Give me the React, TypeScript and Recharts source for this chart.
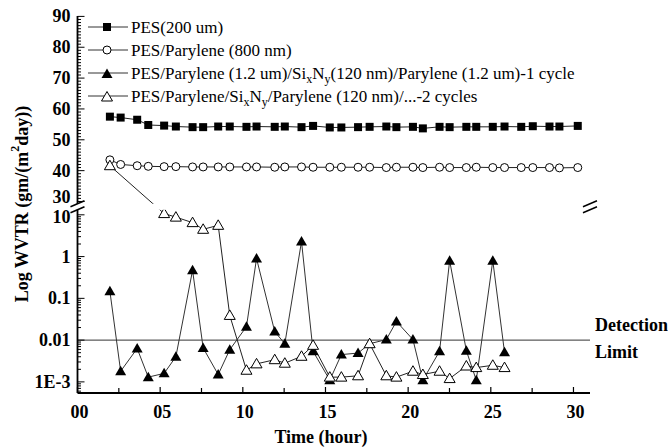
import React from "react";
import {
  ComposedChart,
  Line,
  XAxis,
  YAxis,
  ReferenceLine,
  ReferenceArea,
} from "recharts";

// measurement times (hour), shared by all four samples
const times = [
  1.96, 2.61, 3.61, 4.28, 5.24, 5.95, 6.96, 7.6, 8.51, 9.21, 10.22, 10.83, 11.93, 12.54, 13.55, 14.25,
  15.26, 15.96, 16.97, 17.67, 18.68, 19.29, 20.29, 20.89, 21.9, 22.51, 23.52, 24.12, 25.12, 25.83,
  26.84, 27.54, 28.55, 29.15, 30.26,
];

const pes200 = [
  57.5, 57.2, 56.5, 54.8, 54.6, 54.3, 54.1, 54.1, 54.3, 54.3, 54.2, 54.3, 54.2, 54.3, 54.1, 54.5, 54.0,
  54.0, 54.1, 54.2, 54.3, 54.1, 54.2, 53.7, 54.2, 54.1, 54.2, 54.2, 54.2, 54.3, 54.2, 54.4, 54.3, 54.3, 54.5,
];

const parylene800 = [
  43.5, 42.0, 41.6, 41.4, 41.3, 41.3, 41.2, 41.2, 41.2, 41.2, 41.2, 41.2, 41.1, 41.2, 41.2, 41.1, 41.1,
  41.1, 41.1, 41.1, 41.0, 41.1, 41.1, 41.0, 41.1, 41.0, 41.0, 41.1, 41.0, 41.0, 41.0, 41.0, 41.0, 40.9, 41.0,
];

const oneCycle = [
  0.148, 0.0018, 0.0063, 0.0013, 0.0016, 0.004, 0.47, 0.0065, 0.0015, 0.0059, 0.021, 0.9, 0.016, 0.0082,
  2.3, 0.0054, 0.0011, 0.0045, 0.0049, 0.0082, 0.0103, 0.028, 0.0103, 0.0011, 0.0054, 0.8, 0.0056,
  0.0011, 0.8, 0.0051,
];

const twoCycles = [
  41.6, null, null, null, 10.7, 8.8, 6.5, 4.5, 5.6, 0.039, 0.0019, 0.0027, 0.0034, 0.0028, 0.0041, 0.0075,
  0.0013, 0.0013, 0.0014, 0.0082, 0.0014, 0.0013, 0.0018, 0.0015, 0.0018, 0.0012, 0.0024, 0.0022,
  0.0025, 0.0022,
];

const xTicks = [0, 2.5, 5, 7.5, 10, 12.5, 15, 17.5, 20, 22.5, 25, 27.5, 30];
const logLabels = ["1E-3", "0.01", "0.1", "1", "10"];
const detectionLimit = 0.01;

// broken axis: log10 below the break, linear (30..90) above it
const U30 = 1.319;
const U_PER_UNIT = 0.07386;
const toU = (v: number | null | undefined) =>
  v == null ? null : v >= 20 ? U30 + (v - 30) * U_PER_UNIT : Math.log10(v);

const data = times.map((t, i) => ({
  t,
  pes: toU(pes200[i]),
  par: toU(parylene800[i]),
  one: toU(oneCycle[i]),
  two: toU(twoCycles[i]),
}));

type TickInfo = { label?: string; major: boolean; dy?: number };
const tickInfo = new Map<string, TickInfo>();
const yTicks: number[] = [];
const addTick = (u: number, info: TickInfo) => {
  yTicks.push(u);
  tickInfo.set(u.toFixed(4), info);
};
for (let v = 30; v <= 90; v++) {
  addTick(toU(v) as number, {
    label: v % 10 === 0 ? String(v) : undefined,
    major: v % 10 === 0,
    dy: v === 30 ? -4 : 0,
  });
}
for (let k = 6; k <= 9; k++) addTick(Math.log10(k * 1e-4), { major: false });
for (let d = -3; d <= 0; d++) {
  for (let k = 1; k <= 9; k++) {
    addTick(Math.log10(k) + d, k === 1 ? { label: logLabels[d + 3], major: true } : { major: false });
  }
}
addTick(1, { label: logLabels[4], major: true, dy: 2 });

const FONT = "'Liberation Serif', 'Times New Roman', serif";
const U_MIN = -3.266;
const U_MAX = 5.76;

const YTick = (props: any) => {
  const { x, y, payload } = props;
  const info = tickInfo.get(Number(payload.value).toFixed(4)) || { major: false };
  return (
    <g>
      <line x1={x} y1={y} x2={x + (info.major ? 7 : 3.5)} y2={y} stroke="#000" strokeWidth={1} />
      {info.label && (
        <text x={x - 7} y={y + (info.dy || 0)} textAnchor="end" dominantBaseline="central" fontFamily={FONT} fontWeight="bold" fontSize={18} fill="#000">
          {info.label}
        </text>
      )}
    </g>
  );
};

const XTick = (props: any) => {
  const { x, y, payload } = props;
  const v = payload.value as number;
  const major = v % 5 === 0;
  return (
    <g>
      <line x1={x} y1={y} x2={x} y2={y - (major ? 6 : 5)} stroke="#000" strokeWidth={1.2} />
      {major && (
        <text x={x + 2} y={y + 25} textAnchor="middle" fontFamily={FONT} fontWeight="bold" fontSize={18} fill="#000">
          {String(v).padStart(2, "0")}
        </text>
      )}
    </g>
  );
};

const Square = (p: any) =>
  p.cx == null || p.cy == null ? <g key={p.index} /> : <rect key={p.index} x={p.cx - 4} y={p.cy - 4} width={8} height={8} fill="#000" />;
const Circle = (p: any) =>
  p.cx == null || p.cy == null ? <g key={p.index} /> : <circle key={p.index} cx={p.cx} cy={p.cy} r={4} fill="#fff" stroke="#000" strokeWidth={1} />;
const triPoints = (cx: number, cy: number) => `${cx},${cy - 5.5} ${cx - 5.5},${cy + 4} ${cx + 5.5},${cy + 4}`;
const FilledTri = (p: any) =>
  p.cx == null || p.cy == null ? <g key={p.index} /> : <polygon key={p.index} points={triPoints(p.cx, p.cy)} fill="#000" />;
const OpenTri = (p: any) =>
  p.cx == null || p.cy == null ? <g key={p.index} /> : <polygon key={p.index} points={triPoints(p.cx, p.cy)} fill="#fff" stroke="#000" strokeWidth={1} />;

const BreakMark = (props: any) => {
  const { x, y, width, height } = props;
  const slash = (cx: number, cy: number, k: string) => (
    <line key={k} x1={cx - 7} y1={cy + 3} x2={cx + 7} y2={cy - 3} stroke="#000" strokeWidth={1.5} />
  );
  return (
    <g>
      <rect x={x - 8} y={y} width={width + 16} height={height} fill="#fff" />
      {slash(x, y, "a")}
      {slash(x, y + height, "b")}
      {slash(x + width, y, "c")}
      {slash(x + width, y + height, "d")}
    </g>
  );
};

const DetectionLabel = (props: any) => {
  const vb = props.viewBox || {};
  const x = vb.x + vb.width + 5;
  return (
    <g fontFamily={FONT} fontWeight="bold" fontSize={18} fill="#000">
      <text x={x} y={vb.y - 15} dominantBaseline="central">Detection</text>
      <text x={x} y={vb.y + 12} dominantBaseline="central">Limit</text>
    </g>
  );
};

function subStyle(): React.CSSProperties {
  return { fontSize: 12, verticalAlign: "-4px", lineHeight: 0 };
}

const legendItems = [
  { key: "pes", marker: "square", text: <>PES(200 um)</> },
  { key: "par", marker: "circle", text: <>PES/Parylene (800 nm)</> },
  {
    key: "one",
    marker: "filled",
    text: (
      <>
        PES/Parylene (1.2 um)/Si<sub style={subStyle()}>x</sub>N<sub style={subStyle()}>y</sub>(120 nm)/Parylene (1.2 um)-1 cycle
      </>
    ),
  },
  {
    key: "two",
    marker: "open",
    text: (
      <>
        PES/Parylene/Si<sub style={subStyle()}>x</sub>N<sub style={subStyle()}>y</sub>/Parylene (120 nm)/...-2 cycles
      </>
    ),
  },
];

const LegendMarker = ({ kind }: { kind: string }) => (
  <svg width={44} height={14} style={{ display: "block" }}>
    <line x1={2} y1={7} x2={42} y2={7} stroke="#333" strokeWidth={1} />
    {kind === "square" && <rect x={17} y={3} width={8} height={8} fill="#000" />}
    {kind === "circle" && <circle cx={21} cy={7} r={4} fill="#fff" stroke="#000" />}
    {kind === "filled" && <polygon points={triPoints(21, 8)} fill="#000" />}
    {kind === "open" && <polygon points={triPoints(21, 8)} fill="#fff" stroke="#000" />}
  </svg>
);

export default function App() {
  return (
    <div style={{ position: "absolute", left: 0, top: 0, width: 668, height: 447, background: "#fff" }}>
      <ComposedChart width={668} height={447} data={data} margin={{ top: 16, right: 78, bottom: 0, left: 0 }}>
        <XAxis
          dataKey="t"
          type="number"
          domain={[0, 31]}
          ticks={xTicks}
          interval={0}
          tickSize={0}
          tickMargin={0}
          tickLine={false}
          tick={<XTick />}
          height={54}
          axisLine={{ stroke: "#000", strokeWidth: 1.8 }}
          label={() => (
            <text x={321} y={443} textAnchor="middle" fontFamily={FONT} fontWeight="bold" fontSize={18} fill="#000">
              Time (hour)
            </text>
          )}
        />
        <XAxis xAxisId="top" orientation="top" dataKey="t" type="number" domain={[0, 31]} height={0} tick={false} tickLine={false} axisLine={{ stroke: "#000", strokeWidth: 1.5 }} />
        <YAxis
          type="number"
          domain={[U_MIN, U_MAX]}
          ticks={yTicks}
          interval={0}
          tickSize={0}
          tickMargin={0}
          tickLine={false}
          tick={<YTick />}
          width={77.5}
          allowDataOverflow
          axisLine={{ stroke: "#000", strokeWidth: 1.8 }}
          label={() => (
            <text
              transform="translate(22 204) rotate(-90)"
              textAnchor="middle"
              dominantBaseline="central"
              fontFamily={FONT}
              fontWeight="bold"
              fontSize={18}
              fill="#000"
            >
              Log WVTR (gm/(m<tspan fontSize={12} dy={-7}>2</tspan><tspan dy={7}>day))</tspan>
            </text>
          )}
        />
        <YAxis yAxisId="r" orientation="right" type="number" domain={[U_MIN, U_MAX]} width={0} tick={false} tickLine={false} axisLine={{ stroke: "#000", strokeWidth: 1.8 }} />
        <ReferenceLine y={toU(detectionLimit) as number} stroke="#333" strokeWidth={1} label={<DetectionLabel />} />
        <Line dataKey="pes" stroke="#222" strokeWidth={1} dot={Square} activeDot={false} isAnimationActive={false} />
        <Line dataKey="par" stroke="#222" strokeWidth={1} dot={Circle} activeDot={false} isAnimationActive={false} />
        <Line dataKey="one" stroke="#333" strokeWidth={1} dot={FilledTri} activeDot={false} connectNulls isAnimationActive={false} />
        <Line dataKey="two" stroke="#222" strokeWidth={1} dot={OpenTri} activeDot={false} connectNulls isAnimationActive={false} />
        <ReferenceArea x1={0} x2={31} y1={1.12} y2={1.264} shape={<BreakMark />} {...({ zIndex: 2000 } as any)} />
      </ComposedChart>
      <div style={{ position: "absolute", left: 86, top: 15.5, fontFamily: FONT, fontSize: 17, color: "#000" }}>
        {legendItems.map((it) => (
          <div key={it.key} style={{ display: "flex", alignItems: "center", height: 23, whiteSpace: "nowrap" }}>
            <LegendMarker kind={it.marker} />
            <span style={{ marginLeft: 1, lineHeight: "23px" }}>{it.text}</span>
          </div>
        ))}
      </div>
    </div>
  );
}
